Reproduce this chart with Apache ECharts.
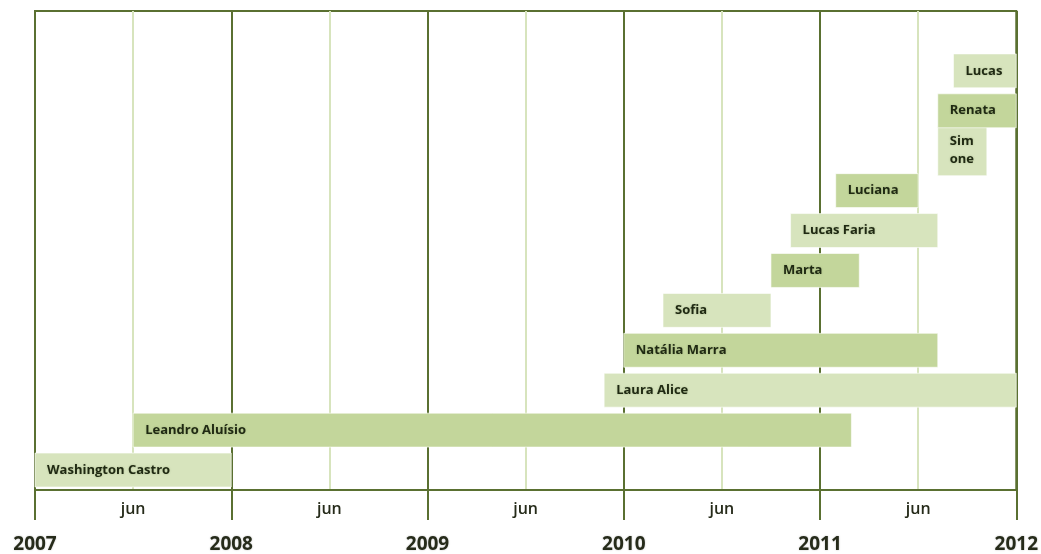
<!DOCTYPE html>
<html>
<head>
<meta charset="utf-8">
<script src="https://cdn.jsdelivr.net/npm/echarts@6/dist/echarts.min.js"></script>
<style>
  html, body { margin: 0; padding: 0; background: #fff; }
  #chart { width: 1041px; height: 554px; }
</style>
</head>
<body>
<div id="chart"></div>
<script>
// people, bottom row first
const names = ['Washington Castro', 'Leandro Aluísio', 'Laura Alice', 'Natália Marra', 'Sofia', 'Marta',
  'Lucas Faria', 'Luciana', 'Simone', 'Renata', 'Lucas']
const starts = [2007.0, 2007.5, 2009.9, 2010.0, 2010.2, 2010.75, 2010.85, 2011.08, 2011.6, 2011.6, 2011.68]
const ends = [2008.0, 2011.16, 2012.0, 2011.6, 2010.75, 2011.2, 2011.6, 2011.5, 2011.85, 2012.0, 2012.0]
const rows = ['r0', 'r1', 'r2', 'r3', 'r4', 'r5', 'r6', 'r7', 'r8', 'r9', 'r10', 'r11']
const halfLabel = 'jun'

const dark = '#5a7031'
const barColors = ['#d7e4bd', '#c3d69b']

const data = names.map((n, i) => [starts[i], ends[i], i, n])

const chart = echarts.init(document.getElementById('chart'))

const renderItem = (params, api) => {
  const s = api.coord([api.value(0), api.value(2)])
  const e = api.coord([api.value(1), api.value(2)])
  const w = e[0] - s[0]
  const idx = params.dataIndex
  const textStyle = {
    text: names[idx],
    fill: '#1f2912',
    font: 'bold 13px "Open Sans", sans-serif',
    verticalAlign: 'middle',
    align: 'left',
    width: w - 22,
    overflow: 'breakAll',
    lineHeight: 18,
    textShadowColor: 'rgba(90,110,60,0.35)',
    textShadowBlur: 2
  }
  // grow the box when the name wraps
  const probe = new echarts.graphic.Text({ style: textStyle })
  const th = probe.getBoundingRect().height
  const h = Math.max(api.size([0, 1])[1] * 0.85, th + 14)
  return {
    type: 'group',
    children: [
      {
        type: 'rect',
        shape: { x: s[0], y: s[1] - h / 2, width: w, height: h },
        style: { fill: barColors[idx % 2], stroke: 'rgba(255,255,255,0.6)', lineWidth: 1 }
      },
      {
        type: 'text',
        x: s[0] + 12,
        y: s[1],
        style: textStyle
      }
    ]
  }
}

chart.setOption({
  animation: false,
  grid: {
    left: 35, right: 24, top: 11, bottom: 63,
    show: true, borderColor: dark, borderWidth: 2, backgroundColor: '#fff'
  },
  xAxis: [
    {
      type: 'value', min: 2007, max: 2012, interval: 1, position: 'bottom',
      axisLine: { show: true, lineStyle: { color: dark, width: 2 } },
      axisTick: { show: true, length: 30, lineStyle: { color: dark, width: 2 } },
      axisLabel: {
        margin: 45, color: '#262b1a', fontSize: 19, fontWeight: 'bold',
        fontFamily: '"Open Sans", sans-serif',
        formatter: v => String(v),
        textShadowColor: 'rgba(0,0,0,0.25)', textShadowBlur: 2
      },
      splitLine: { show: false }
    },
    {
      type: 'value', min: 2007, max: 2012, interval: 0.5, position: 'bottom',
      axisLine: { show: false },
      axisTick: { show: false },
      axisLabel: {
        margin: 11, color: '#262b1a', fontSize: 16, fontWeight: 600,
        fontFamily: '"Open Sans", sans-serif',
        formatter: v => (v % 1 ? halfLabel : ''),
        showMinLabel: false, showMaxLabel: false
      },
      splitLine: { show: true, lineStyle: { color: [dark, '#d7e4bd'], width: 2 } }
    }
  ],
  yAxis: {
    type: 'category', data: rows, show: false, boundaryGap: true
  },
  series: [
    {
      type: 'custom',
      xAxisIndex: 0,
      renderItem: renderItem,
      encode: { x: [0, 1], y: 2 },
      data: data
    }
  ]
})
</script>
</body>
</html>
